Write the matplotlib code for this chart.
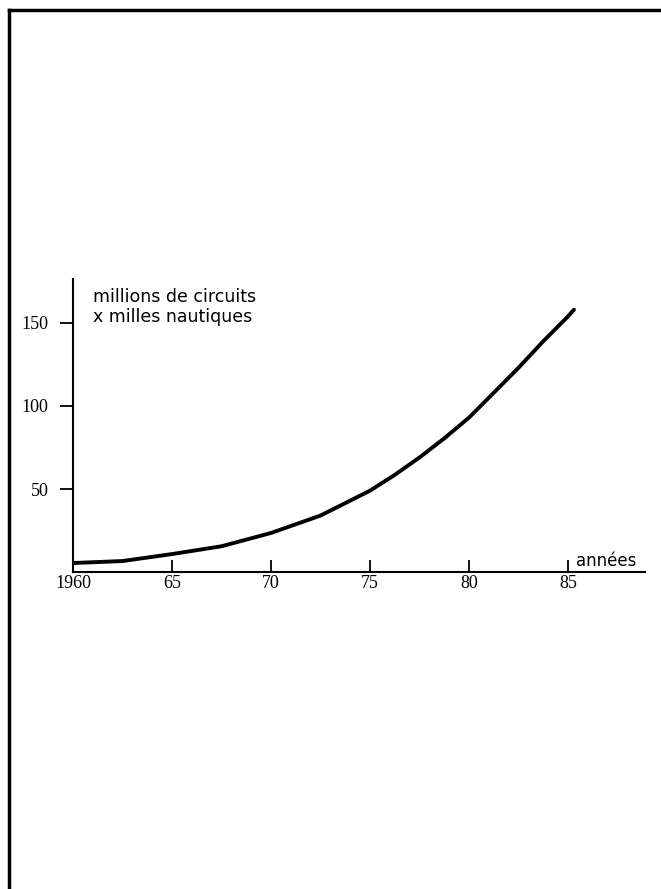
import matplotlib
matplotlib.use("Agg")
import matplotlib.pyplot as plt
from matplotlib.lines import Line2D

# values
years = [1960, 1962.5, 1965, 1967.5, 1970, 1972.5, 1975, 1976.25, 1977.5, 1978.75,
         1980, 1981.25, 1982.5, 1983.75, 1985, 1985.3]
values = [5.4, 6.6, 10.8, 15.5, 23.5, 34, 49, 58.5, 69, 80.5,
          93, 108, 123, 139, 154, 158]

xticks = [1960, 1965, 1970, 1975, 1980, 1985]
xlabels = ["1960", "65", "70", "75", "80", "85"]
yticks = [50, 100, 150]
ylabels = ["50", "100", "150"]

W, H = 661, 889
fig = plt.figure(figsize=(W / 100, H / 100), dpi=100)

# axes frame in pixels: origin (73, 572), right end 645, top 279
x0, y0, x1, y1 = 73, 572, 645, 279
ax = fig.add_axes([x0 / W, (H - y0) / H, (x1 - x0) / W, (y0 - y1) / H])

ax.plot(years, values, color="black", lw=2.8, solid_capstyle="round",
        solid_joinstyle="round")

ax.set_xlim(1960, 1960 + (x1 - x0) / 19.8)
ax.set_ylim(0, (y0 - y1) / 83 * 50)

for s in ["top", "right"]:
    ax.spines[s].set_visible(False)
for s in ["left", "bottom"]:
    ax.spines[s].set_linewidth(1.5)

ax.set_xticks(xticks)
ax.set_xticklabels(xlabels, family="Liberation Serif", fontsize=13)
ax.set_yticks(yticks)
ax.set_yticklabels(ylabels, family="Liberation Serif", fontsize=13)
ax.tick_params(axis="x", direction="in", length=9, width=1.3, pad=2)
ax.tick_params(axis="y", direction="out", length=9.5, width=1.3, pad=8)

ax.text(1961, 171, "millions de circuits\nx milles nautiques", va="top", ha="left",
        fontsize=12.5, family="DejaVu Sans", linespacing=1.15)
ax.text(1985.4, 1.5, "années", va="bottom", ha="left", fontsize=12, family="DejaVu Sans")

# page border (left and top)
fig.add_artist(Line2D([9 / W, 9 / W], [0, 1 - 10 / H], color="black", lw=2.5,
                      transform=fig.transFigure))
fig.add_artist(Line2D([9 / W, 1], [1 - 10 / H, 1 - 10 / H], color="black", lw=2.5,
                      transform=fig.transFigure))

fig.savefig("out.png", dpi=100)
